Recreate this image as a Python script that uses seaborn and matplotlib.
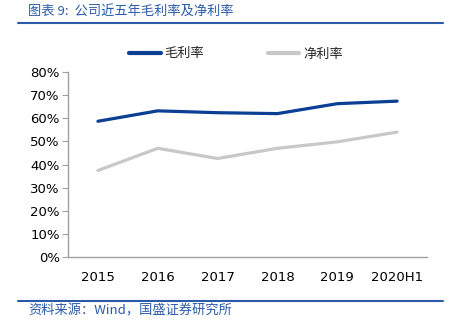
import matplotlib
matplotlib.use("Agg")
import matplotlib.pyplot as plt
import seaborn as sns
import pandas as pd
from matplotlib.lines import Line2D

years = ["2015", "2016", "2017", "2018", "2019", "2020H1"]
gross_margin = [58.7, 63.2, 62.4, 62.0, 66.3, 67.4]
net_margin = [37.4, 47.0, 42.6, 47.0, 49.8, 54.0]
series_names = ["毛利率", "净利率"]
yticks = [0, 10, 20, 30, 40, 50, 60, 70, 80]

sns.set_theme(style="white")
plt.rcParams["font.family"] = ["DejaVu Sans", "Noto Sans CJK SC"]

df = pd.DataFrame({
    "year": years * 2,
    "value": gross_margin + net_margin,
    "series": [series_names[0]] * len(years) + [series_names[1]] * len(years),
})

BLUE = "#0A3F94"
GRAY = "#C8C8C8"
TITLE_BLUE = "#2A5AA8"

fig = plt.figure(figsize=(4.52, 3.21), dpi=100)
ax = fig.add_axes([68 / 452, 1 - 257 / 321, (427 - 68) / 452, (257 - 72) / 321])

sns.lineplot(data=df, x="year", y="value", hue="series",
             palette={series_names[0]: BLUE, series_names[1]: GRAY},
             linewidth=2.3, ax=ax, legend=False, sort=False)

ax.set_xlim(-0.5, len(years) - 0.5)
ax.set_ylim(0, 80)
ax.set_yticks(yticks)
ax.set_yticklabels([f"{v}%" for v in yticks], fontsize=9.5, color="#000000")
ax.set_xticks(range(len(years)))
ax.set_xticklabels(years, fontsize=9.5, color="#000000")
ax.set_xticks([i + 0.5 for i in range(len(years))], minor=True)
ax.tick_params(axis="x", which="major", length=0, pad=10)
ax.tick_params(axis="x", which="minor", length=4, color="#A0A0A0", width=0.8, direction="out")
ax.tick_params(axis="y", which="major", length=4, color="#A0A0A0", width=0.8, direction="out", pad=2, left=True)
ax.set_xlabel("")
ax.set_ylabel("")
for s in ["top", "right"]:
    ax.spines[s].set_visible(False)
for s in ["left", "bottom"]:
    ax.spines[s].set_color("#A0A0A0")
    ax.spines[s].set_linewidth(1.0)

# Legend
handles = [Line2D([0], [0], color=BLUE, lw=3), Line2D([0], [0], color=GRAY, lw=3)]
fig.legend(handles, series_names, loc="center", bbox_to_anchor=(236 / 452, 1 - 54 / 321),
           ncol=2, frameon=False, handlelength=2.4, columnspacing=4.8,
           handletextpad=0.3, prop={"family": ["Noto Sans CJK SC"], "size": 9.5})

# Title and source
fig.text(28 / 452, 1 - 11 / 321, "图表 9:  公司近五年毛利率及净利率", fontsize=9.5,
         color=TITLE_BLUE, va="center", ha="left", family=["Noto Sans CJK SC"], style="italic")
fig.add_artist(Line2D([18 / 452, 443 / 452], [1 - 23 / 321, 1 - 23 / 321], color=TITLE_BLUE, lw=1.5))
fig.add_artist(Line2D([18 / 452, 443 / 452], [1 - 301 / 321, 1 - 301 / 321], color=TITLE_BLUE, lw=1.5))
fig.text(28 / 452, 1 - 311 / 321, "资料来源：Wind，国盛证券研究所", fontsize=9.5,
         color=TITLE_BLUE, va="center", ha="left", family=["Noto Sans CJK SC", "DejaVu Sans"], style="italic")

fig.savefig("out.png", dpi=100)
